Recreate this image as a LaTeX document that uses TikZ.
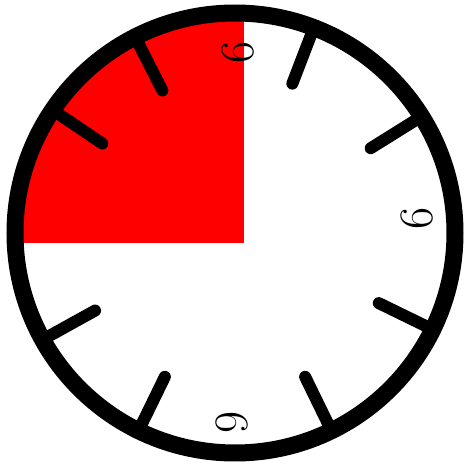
\documentclass[tikz,border=0pt]{standalone}
\usepackage{tikz}
\tikzset{
  ring/.style={line width=12.75pt},
  tick/.style={line width=9pt, line cap=round},
  dial/.style={font=\fontsize{36}{36}\selectfont, inner sep=0pt}
}
\begin{document}
\begin{tikzpicture}[x=0.75pt,y=-0.75pt]
  \pgfmathsetmacro{\cx}{235}
  \pgfmathsetmacro{\cy}{233}
  \pgfmathsetmacro{\R}{220}
  \useasboundingbox (0,0) rectangle (469,467);

  % red quarter, cut by the rim
  \begin{scope}
    \clip (\cx, \cy) circle[radius=\R];
    \fill[red] (0,0) rectangle (244,243);
  \end{scope}

  % tick marks
  \foreach \a in {32,69,117,146,209,244,296,334} {
    \draw[tick] ({\cx+\R*cos(\a)}, {\cy-\R*sin(\a)}) -- ({\cx+160*cos(\a)}, {\cy-160*sin(\a)});
  }

  % rim
  \draw[ring] (\cx, \cy) circle[radius=\R];

  % dial numbers
  \node[dial, rotate=90] (ntop) at (238,52) {6};
  \node[dial, rotate=90] (nright) at (417,218) {6};
  \node[dial, rotate=-90] (nbottom) at (232,423) {6};
\end{tikzpicture}
\end{document}
